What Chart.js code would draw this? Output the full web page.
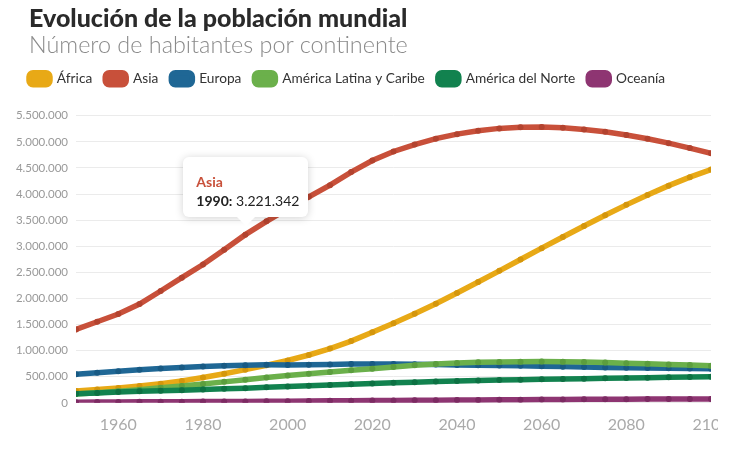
<!DOCTYPE html>
<html>
<head>
<meta charset="utf-8">
<script src="https://cdn.jsdelivr.net/npm/chart.js@4.4.1/dist/chart.umd.min.js"></script>
<style>
  html, body { margin: 0; padding: 0; background: #fff; }
  #clip { position: absolute; left: 0; top: 0; width: 718px; height: 455px; overflow: hidden; }
  #inner { width: 748px; height: 455px; }
  .head { position: absolute; left: 29px; margin: 0; font-family: Lato, sans-serif; white-space: nowrap; z-index: 2; }
  #title { top: 2px; font-size: 25px; line-height: 30px; font-weight: 900; color: #2a2a2a; }
  #subtitle { top: 30px; font-size: 23.4px; line-height: 28px; font-weight: 300; color: #8a8a8a; }
  #tip {
    position: absolute; width: 125px; height: 60px; background: #fff; z-index: 3;
    border-radius: 6px; box-shadow: 0 1px 8px rgba(0,0,0,0.18);
    font-family: Lato, sans-serif; box-sizing: border-box; padding: 16px 0 0 13px;
    opacity: 0; pointer-events: none;
  }
  #tip::after {
    content: ''; position: absolute; left: 50%; bottom: -9px; margin-left: -9px;
    border-left: 9px solid transparent; border-right: 9px solid transparent;
    border-top: 9px solid #fff;
  }
  #tipTitle { font-weight: 700; font-size: 14px; line-height: 18px; }
  #tipBody { font-size: 14px; line-height: 20px; color: #222; }
</style>
</head>
<body>
<div id="clip"><div id="inner"><canvas id="chart" width="748" height="455"></canvas></div></div>
<h1 class="head" id="title">Evolución de la población mundial</h1>
<h2 class="head" id="subtitle">Número de habitantes por continente</h2>
<div id="tip"><div id="tipTitle"></div><div id="tipBody"></div></div>
<script>
const years = [
  1950, 1955, 1960, 1965, 1970, 1975, 1980, 1985, 1990, 1995, 2000,
  2005, 2010, 2015, 2020, 2025, 2030, 2035, 2040, 2045, 2050,
  2055, 2060, 2065, 2070, 2075, 2080, 2085, 2090, 2095, 2100
];

const africa = [
  228000, 254000, 285000, 322000, 366000, 418000, 483000, 556000, 635000, 720000, 811000,
  916000, 1039000, 1182000, 1353000, 1523000, 1704000, 1899000, 2104000, 2314000, 2528000,
  2745000, 2962000, 3177000, 3388000, 3594000, 3792000, 3981000, 4160000, 4323000, 4468000
];
const asia = [
  1405000, 1553000, 1700000, 1891000, 2142000, 2397000, 2649000, 2934000, 3221342, 3476000, 3714000,
  3945000, 4170000, 4420000, 4641000, 4814000, 4947000, 5060000, 5147000, 5212000, 5257000,
  5280000, 5283000, 5268000, 5237000, 5191000, 5131000, 5058000, 4974000, 4880000, 4780000
];
const europe = [
  549000, 577000, 605000, 635000, 657000, 677000, 694000, 708000, 721000, 727000, 726000,
  729000, 736000, 741000, 743000, 743000, 739000, 733000, 726000, 719000, 716000,
  709000, 701000, 693000, 685000, 678000, 671000, 665000, 660000, 656000, 653000
];
const latinAmerica = [
  169000, 193000, 220000, 252000, 287000, 324000, 361000, 401000, 443000, 483000, 522000,
  558000, 591000, 623000, 654000, 688000, 718000, 744000, 763000, 775000, 780000,
  787000, 789000, 787000, 781000, 772000, 760000, 747000, 735000, 723000, 712000
];
const northAmerica = [
  173000, 187000, 205000, 219000, 231000, 242000, 254000, 267000, 280000, 296000, 312000,
  328000, 343000, 357000, 369000, 382000, 395000, 407000, 417000, 427000, 435000,
  442000, 450000, 456000, 463000, 469000, 476000, 482000, 488000, 494000, 499000
];
const oceania = [
  12900, 14200, 15900, 17800, 19700, 21200, 22900, 24900, 27000, 29100, 31400,
  34000, 37000, 39700, 42700, 45600, 48300, 51000, 53500, 55700, 57400,
  59900, 62000, 64000, 66000, 67800, 69600, 71200, 72700, 74000, 75000
];

const seriesNames = ['África', 'Asia', 'Europa', 'América Latina y Caribe', 'América del Norte', 'Oceanía'];
const seriesValues = [africa, asia, europe, latinAmerica, northAmerica, oceania];
const xTicks = [1960, 1980, 2000, 2020, 2040, 2060, 2080, 2100];

const colors = ['#e8a916', '#c8503a', '#1f6795', '#6bb04b', '#12824f', '#8e3572'];
const dotColors = ['#d4960c', '#b3432f', '#185a84', '#5c9e3e', '#0d7143', '#7c2a62'];

function formatNumber(n) {
  return String(Math.round(n)).replace(/\B(?=(\d{3})+(?!\d))/g, '.');
}

const datasets = seriesNames.map((name, i) => ({
  label: name,
  data: years.map((year, j) => ({ x: year, y: seriesValues[i][j] })),
  borderColor: colors[i],
  backgroundColor: colors[i],
  borderWidth: 5.5,
  borderCapStyle: 'round',
  pointRadius: 3,
  pointBorderWidth: 0,
  pointBackgroundColor: dotColors[i],
  pointHoverRadius: 3,
  order: -i
}));

// tooltip drawn as html so the year can be bold
function externalTooltip(context) {
  const tooltip = context.tooltip;
  const tip = document.getElementById('tip');
  if (tooltip.opacity === 0 || !tooltip.dataPoints || !tooltip.dataPoints.length) {
    tip.style.opacity = 0;
    return;
  }
  const point = tooltip.dataPoints[0];
  const title = document.getElementById('tipTitle');
  title.textContent = point.dataset.label;
  title.style.color = point.dataset.borderColor;
  const body = document.getElementById('tipBody');
  body.innerHTML = '';
  const b = document.createElement('b');
  b.textContent = point.parsed.x + ':';
  body.appendChild(b);
  body.appendChild(document.createTextNode(' ' + formatNumber(point.parsed.y)));
  tip.style.left = (tooltip.caretX - 62) + 'px';
  tip.style.top = (tooltip.caretY - 60 - 18) + 'px';
  tip.style.opacity = 1;
}

// extra room under the legend
const legendSpace = {
  id: 'legendSpace',
  beforeInit(chart) {
    const fit = chart.legend.fit;
    chart.legend.fit = function () {
      fit.call(this);
      this.height += 20;
    };
  }
};

const chart = new Chart(document.getElementById('chart'), {
  type: 'line',
  data: { datasets: datasets },
  options: {
    responsive: false,
    animation: false,
    events: [],
    layout: { padding: { left: 16, right: 37, top: 59, bottom: 9 } },
    interaction: { mode: 'nearest', intersect: true },
    plugins: {
      legend: {
        align: 'start',
        labels: {
          boxWidth: 21,
          boxHeight: 12,
          useBorderRadius: true,
          borderRadius: 4,
          padding: 13,
          color: '#333',
          font: { family: 'Lato', size: 13.7 },
          sort: (a, b) => a.datasetIndex - b.datasetIndex
        }
      },
      tooltip: { enabled: false, external: externalTooltip }
    },
    scales: {
      x: {
        type: 'linear',
        min: 1950,
        max: 2100,
        afterBuildTicks: (scale) => {
          scale.ticks = xTicks.map((v) => ({ value: v }));
        },
        grid: { display: false, drawTicks: false },
        border: { display: false },
        ticks: {
          padding: 12,
          color: '#aaa',
          font: { family: 'Lato', size: 16 },
          maxRotation: 0,
          callback: (v) => String(v)
        }
      },
      y: {
        min: 0,
        max: 5500000,
        afterFit: (scale) => { scale.width = 60; },
        grid: { color: '#ebebeb', drawTicks: false },
        border: { display: false },
        ticks: {
          stepSize: 500000,
          padding: 8,
          color: '#999',
          font: { family: 'Lato', size: 11.5 },
          callback: (v) => formatNumber(v)
        }
      }
    }
  },
  plugins: [legendSpace]
});

chart.tooltip.setActiveElements([{ datasetIndex: 1, index: 8 }], { x: 0, y: 0 });
chart.update();
</script>
</body>
</html>
